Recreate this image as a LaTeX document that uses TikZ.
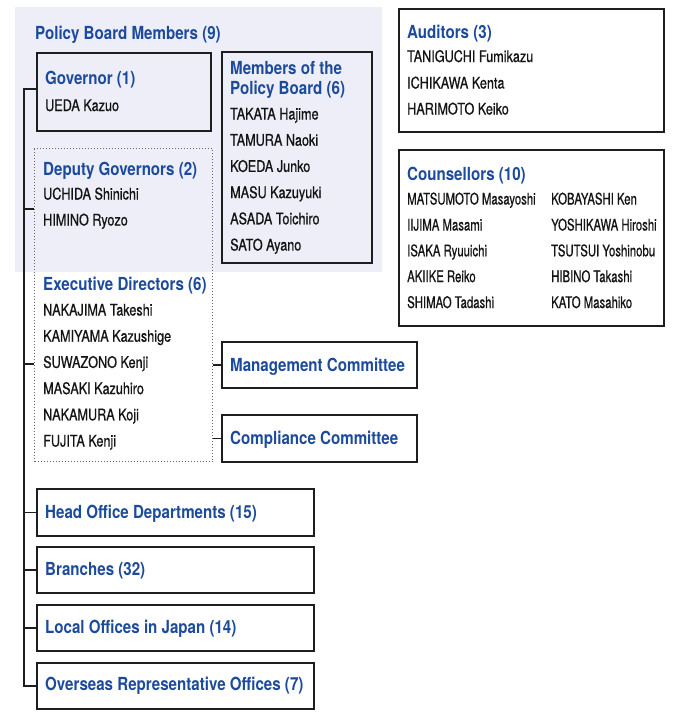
\documentclass[tikz,border=0pt]{standalone}
\usepackage{fontspec}
\setmainfont{TeX Gyre Heros}[FakeStretch=0.79, FakeBold=0.7]
\newfontfamily\headfont{TeX Gyre Heros}[FakeStretch=0.84]
\newfontfamily\coufont{TeX Gyre Heros}[FakeStretch=0.71, FakeBold=0.7]
\definecolor{headblue}{HTML}{1C4A9C}
\definecolor{shade}{HTML}{EDEEF8}
\definecolor{boxline}{HTML}{1E1E1E}
\definecolor{txt}{HTML}{141414}
\begin{document}
\begin{tikzpicture}[x=1pt,y=-1pt,
  box/.style={draw=boxline, line width=2pt, inner sep=0pt, anchor=north west},
  dotbox/.style={draw=black!60, line width=1pt, dash pattern=on 1pt off 2pt, inner sep=0pt, anchor=north west},
  conn/.style={draw=boxline, line width=1.4pt},
  head/.style={anchor=base west, inner sep=0pt, text=headblue, font=\headfont\bfseries\fontsize{18}{21}\selectfont},
  nm/.style={anchor=base west, inner sep=0pt, text=txt, font=\fontsize{16}{19}\selectfont},
  cnm/.style={nm, font=\coufont\fontsize{16}{19}\selectfont}]
\useasboundingbox (0,0) rectangle (680,718);
% shaded policy board area
\node[fill=shade, inner sep=0pt, anchor=north west, minimum width=367pt, minimum height=265pt] (pbm) at (15,7) {};
\node[head] (pbmt) at (35,39.5) {Policy Board Members (9)};
% boxes
\node[box, minimum width=174pt, minimum height=78pt] (gov) at (36,52) {};
\node[box, minimum width=150pt, minimum height=211pt] (mem) at (221,51) {};
\node[dotbox, minimum width=178pt, minimum height=313pt] (dot) at (34,148) {};
\node[box, minimum width=195pt, minimum height=46pt] (mgmt) at (221,341) {};
\node[box, minimum width=195pt, minimum height=47pt] (comp) at (221,414) {};
\node[box, minimum width=265pt, minimum height=123pt] (aud) at (398,8) {};
\node[box, minimum width=265pt, minimum height=176pt] (cou) at (398,149) {};
\node[box, minimum width=277pt, minimum height=47pt] (hod) at (36,488) {};
\node[box, minimum width=277pt, minimum height=46pt] (bra) at (36,546) {};
\node[box, minimum width=277pt, minimum height=46pt] (loc) at (36,604) {};
\node[box, minimum width=277pt, minimum height=46pt] (ovs) at (36,662) {};
% governor
\node[head] (govt) at (45,84.5) {Governor (1)};
\node[nm] (gov1) at (45,111) {UEDA Kazuo};
% members
\node[head] (memt1) at (230,74.5) {Members of the};
\node[head] (memt2) at (230,94.5) {Policy Board (6)};
\node[nm] (mem1) at (230,119.5) {TAKATA Hajime};
\node[nm] (mem2) at (230,145.7) {TAMURA Naoki};
\node[nm] (mem3) at (230,171.9) {KOEDA Junko};
\node[nm] (mem4) at (230,198.1) {MASU Kazuyuki};
\node[nm] (mem5) at (230,224.3) {ASADA Toichiro};
\node[nm] (mem6) at (230,250.5) {SATO Ayano};
% deputy governors
\node[head] (dept) at (43,175.5) {Deputy Governors (2)};
\node[nm] (dep1) at (43,199.5) {UCHIDA Shinichi};
\node[nm] (dep2) at (43,225.5) {HIMINO Ryozo};
% executive directors
\node[head] (exet) at (43,290.5) {Executive Directors (6)};
\node[nm] (exe1) at (43,315.5) {NAKAJIMA Takeshi};
\node[nm] (exe2) at (43,341.7) {KAMIYAMA Kazushige};
\node[nm] (exe3) at (43,367.9) {SUWAZONO Kenji};
\node[nm] (exe4) at (43,394.1) {MASAKI Kazuhiro};
\node[nm] (exe5) at (43,420.3) {NAKAMURA Koji};
\node[nm] (exe6) at (43,446.5) {FUJITA Kenji};
% committees
\node[head] (mgmtt) at (230,371) {Management Committee};
\node[head] (compt) at (230,444) {Compliance Committee};
% auditors
\node[head] (audt) at (407,38.5) {Auditors (3)};
\node[nm] (aud1) at (407,62) {TANIGUCHI Fumikazu};
\node[nm] (aud2) at (407,88.5) {ICHIKAWA Kenta};
\node[nm] (aud3) at (407,114.5) {HARIMOTO Keiko};
% counsellors
\node[head] (cout) at (407,180) {Counsellors (10)};
\node[cnm] (cou1) at (407,204.5) {MATSUMOTO Masayoshi};
\node[cnm] (cou2) at (407,230.5) {IIJIMA Masami};
\node[cnm] (cou3) at (407,256.3) {ISAKA Ryuuichi};
\node[cnm] (cou4) at (407,282.1) {AKIIKE Reiko};
\node[cnm] (cou5) at (407,308) {SHIMAO Tadashi};
\node[cnm] (cou6) at (551,204.5) {KOBAYASHI Ken};
\node[cnm] (cou7) at (551,230.5) {YOSHIKAWA Hiroshi};
\node[cnm] (cou8) at (551,256.3) {TSUTSUI Yoshinobu};
\node[cnm] (cou9) at (551,282.1) {HIBINO Takashi};
\node[cnm] (cou10) at (551,308) {KATO Masahiko};
% bottom boxes
\node[head] (hodt) at (45,518) {Head Office Departments (15)};
\node[head] (brat) at (45,575.5) {Branches (32)};
\node[head] (loct) at (45,633) {Local Offices in Japan (14)};
\node[head] (ovst) at (45,690.5) {Overseas Representative Offices (7)};
% connectors
\coordinate (ttop) at (24,89);
\coordinate (tdep) at (24,209);
\coordinate (texe) at (24,364);
\draw[conn] (ttop -| gov.west) -- (ttop) |- (ovs.west);
\draw[conn] (tdep) -- (tdep -| dot.west);
\draw[conn] (texe) -- (texe -| dot.west);
\draw[conn] (ttop |- hod.west) -- (hod.west);
\draw[conn] (ttop |- bra.west) -- (bra.west);
\draw[conn] (ttop |- loc.west) -- (loc.west);
\draw[conn] (mgmt.west -| dot.east) -- (mgmt.west);
\draw[conn] (comp.west -| dot.east) -- (comp.west);
\end{tikzpicture}
\end{document}
